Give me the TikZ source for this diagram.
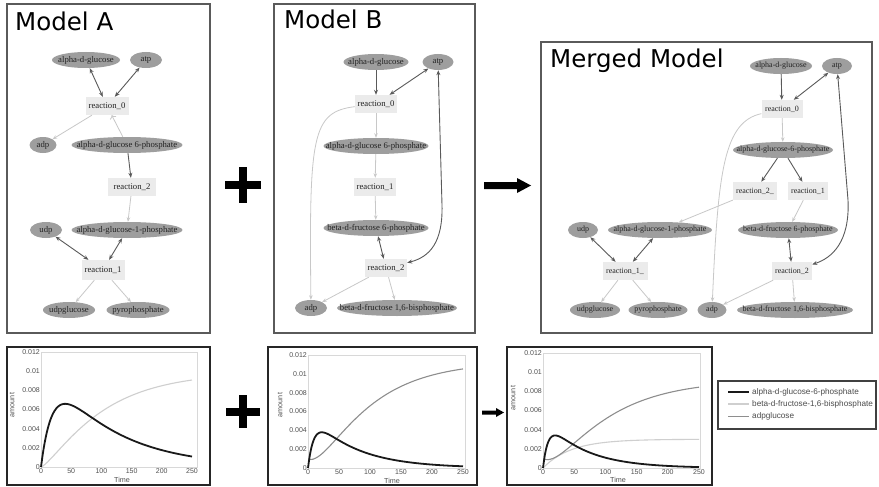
\documentclass[tikz,border=0pt]{standalone}
\usepackage{fontspec}
\setmainfont{Liberation Serif}
\newfontfamily\titlefont{DejaVu Sans}
\newfontfamily\plotfont{Liberation Sans}
\usetikzlibrary{shapes.geometric,arrows.meta}
\definecolor{spc}{HTML}{9E9E9E}
\definecolor{rxc}{HTML}{EBEBEB}
\definecolor{dkc}{HTML}{5A5A5A}
\definecolor{ltc}{HTML}{C8C8C8}
\definecolor{txc}{HTML}{222222}
\definecolor{panelc}{HTML}{5A5A5A}
\definecolor{midc}{HTML}{8E8E8E}
\definecolor{lgtc}{HTML}{CFCFCF}
\definecolor{framec}{HTML}{D8D8D8}
\definecolor{tickc}{HTML}{505050}
\begin{document}
\begin{tikzpicture}[x=1pt,y=-1pt,
 sp/.style={ellipse, fill=spc, inner sep=0pt, minimum height=16pt, minimum width=#1, text=txc,
   execute at begin node={\hbox to 0pt\bgroup\hss}, execute at end node={\hss\egroup}},
 rx/.style={rectangle, fill=rxc, inner sep=0pt, minimum height=18pt, minimum width=#1, text=txc},
 fa/.style={font=\fontsize{8.7}{9}\selectfont},
 fm/.style={font=\fontsize{8}{9}\selectfont},
 dk/.style={draw=dkc, line width=0.9pt, -{Stealth[length=5pt,width=4pt]}},
 dkk/.style={draw=dkc, line width=0.9pt, {Stealth[length=5pt,width=4pt]}-{Stealth[length=5pt,width=4pt]}},
 lt/.style={draw=ltc, line width=0.8pt, -{Stealth[length=4.5pt,width=3.5pt]}},
 panel/.style={draw=panelc, line width=1.6pt},
 plotbox/.style={draw=black!85, line width=1.8pt},
 title/.style={font=\titlefont\fontsize{24.5}{26}\selectfont, anchor=base west, inner sep=0pt},
 tick/.style={font=\plotfont\fontsize{7}{8}\selectfont, text=tickc, inner sep=1pt},
 axlab/.style={font=\plotfont\fontsize{7.2}{8}\selectfont, text=tickc, inner sep=0pt},
 blk/.style={draw=black!90, line width=1.8pt, line join=round},
 mid/.style={draw=midc, line width=1.1pt},
 lgt/.style={draw=lgtc, line width=1.1pt},
 frm/.style={draw=framec, line width=0.6pt},
 leg/.style={font=\plotfont\fontsize{8.2}{9}\selectfont, text=black!70, anchor=west, inner sep=0pt}
]
\useasboundingbox (0,0) rectangle (879,487);
\fill[white] (0,0) rectangle (879,487);

% ---------------- Panels ----------------
\draw[panel] (7,4) rectangle (210,333);
\draw[panel] (274,4) rectangle (475,333);
\draw[panel] (541,42) rectangle (872,333);
\node[title] (tA) at (15,31) {Model A};
\node[title] (tB) at (284,29) {Model B};
\node[title] (tM) at (550,68) {Merged Model};

% ---------------- Model A ----------------
\begin{scope}[fa]
\node[sp=68] (A1) at (86,60) {alpha-d-glucose};
\node[sp=32] (A2) at (146,60) {atp};
\node[rx=43] (Ar0) at (107,106) {reaction\_0};
\node[sp=27] (A3) at (43,145) {adp};
\node[sp=111] (A4) at (127,145) {alpha-d-glucose 6-phosphate};
\node[rx=48] (Ar2) at (132,187) {reaction\_2};
\node[sp=32] (A5) at (46,230) {udp};
\node[sp=111] (A6) at (127,230) {alpha-d-glucose-1-phosphate};
\node[rx=43, minimum height=20pt] (Ar1) at (103,270) {reaction\_1};
\node[sp=52] (A7) at (69,310) {udpglucose};
\node[sp=63] (A8) at (138,310) {pyrophosphate};
\end{scope}
\draw[dkk] (A1) -- (Ar0);
\draw[dkk] (A2) -- (Ar0);
\draw[lt] (Ar0) -- (A3);
\draw[lt, <-] (Ar0) -- (A4);
\draw[dk] (A4) -- (Ar2);
\draw[lt] (Ar2) -- (A6);
\draw[dkk] (A5) -- (Ar1);
\draw[dkk] (A6) -- (Ar1);
\draw[lt] (Ar1) -- (A7);
\draw[lt] (Ar1) -- (A8);

% ---------------- Model B ----------------
\begin{scope}[fa]
\node[sp=65] (B1) at (376,62) {alpha-d-glucose};
\node[sp=31] (B2) at (438,62) {atp};
\node[rx=42] (Br0) at (376,104) {reaction\_0};
\node[sp=105] (B3) at (376,146) {alpha-d-glucose 6-phosphate};
\node[rx=42] (Br1) at (375,187) {reaction\_1};
\node[sp=105] (B4) at (376,228) {beta-d-fructose 6-phosphate};
\node[rx=42] (Br2) at (386,268) {reaction\_2};
\node[sp=32] (B5) at (311,308) {adp};
\node[sp=120] (B6) at (397,308) {beta-d-fructose 1,6-bisphosphate};
\end{scope}
\draw[dk] (B1) -- (Br0);
\draw[dkk] (B2) -- (Br0);
\draw[lt] (Br0) .. controls (312,112) and (309,135) .. (B5);
\draw[lt] (Br0) -- (B3);
\draw[lt] (B3) -- (Br1);
\draw[lt] (Br1) -- (B4);
\draw[dkk] (B4) -- (Br2);
\draw[dkk] (B2) -- (442,205) .. controls (443,242) and (430,257) .. (Br2);
\draw[lt] (Br2) -- (B5);
\draw[lt] (Br2) -- (B6);

% ---------------- Merged ----------------
\begin{scope}[fm]
\node[sp=62] (M1) at (781,66) {alpha-d-glucose};
\node[sp=30] (M2) at (837,66) {atp};
\node[rx=41] (Mr0) at (782,109) {reaction\_0};
\node[sp=100] (M3) at (783,150) {alpha-d-glucose-6-phosphate};
\node[rx=44] (Mr2a) at (755,191) {reaction\_2\_};
\node[rx=40] (Mr1) at (808,191) {reaction\_1};
\node[sp=30] (M4) at (583,230) {udp};
\node[sp=104] (M5) at (660,230) {alpha-d-glucose-1-phosphate};
\node[sp=100] (M6) at (788,230) {beta-d-fructose 6-phosphate};
\node[rx=45] (Mr1a) at (625,271) {reaction\_1\_};
\node[rx=40] (Mr2) at (792,271) {reaction\_2};
\node[sp=50] (M7) at (595,310) {udpglucose};
\node[sp=59] (M8) at (658,310) {pyrophosphate};
\node[sp=29] (M9) at (712,310) {adp};
\node[sp=116] (M10) at (795,310) {beta-d-fructose 1,6-bisphosphate};
\end{scope}
\draw[dk] (M1) -- (Mr0);
\draw[dkk] (M2) -- (Mr0);
\draw[lt] (Mr0) .. controls (724,122) and (718,170) .. (M9);
\draw[lt] (Mr0) -- (M3);
\draw[dk] (M3) -- (Mr2a);
\draw[dk] (M3) -- (Mr1);
\draw[lt] (Mr2a) -- (M5);
\draw[lt] (Mr1) -- (M6);
\draw[dkk] (M4) -- (Mr1a);
\draw[dkk] (M5) -- (Mr1a);
\draw[lt] (Mr1a) -- (M7);
\draw[lt] (Mr1a) -- (M8);
\draw[dkk] (M6) -- (Mr2);
\draw[dkk] (M2) -- (848,200) .. controls (850,242) and (832,258) .. (Mr2);
\draw[lt] (Mr2) -- (M9);
\draw[lt] (Mr2) -- (M10);

% ---------------- Operators ----------------
\fill[black] (239,167) rectangle (247,203);
\fill[black] (225,181) rectangle (261,189);
\fill[black] (484,182) -- (517,182) -- (517,178) -- (531,185.5) -- (517,193) -- (517,189) -- (484,189) -- cycle;
\fill[black] (239,395) rectangle (247,428);
\fill[black] (226,408) rectangle (260,416);
\fill[black] (482,410.5) -- (496,410.5) -- (496,408) -- (504,412.5) -- (496,417) -- (496,414.5) -- (482,414.5) -- cycle;

% ---------------- Plot A ----------------
\draw[plotbox] (7,347) rectangle (210,485);
\begin{scope}[shift={(41,467)}, x=0.604pt, y=9.58pt]
\draw[frm] (0,0) rectangle (258,12);
\foreach \v/\l in {0/0,2/0.002,4/0.004,6/0.006,8/0.008,10/0.01,12/0.012}
  \node[tick, anchor=east] at (0,\v) {\l};
\foreach \t in {0,50,100,150,200,250}
  \node[tick, anchor=north] at (\t,0) {\t};
\draw[lgt] plot[domain=0.5:250, samples=70, smooth] (\x, {9.9*exp(1.35*ln(1-exp(-\x/90)))});
\draw[blk] plot[domain=0:250, samples=80, smooth] (\x, {11.8*(exp(-0.0095*\x)-exp(-0.052*\x))});
\end{scope}
\node[axlab] (xA) at (122,480) {Time};
\node[axlab, rotate=90] (yA) at (12,405) {amount};

% ---------------- Plot B ----------------
\draw[plotbox] (268,347) rectangle (477,485);
\begin{scope}[shift={(308,468)}, x=0.62pt, y=9.42pt]
\draw[frm] (0,0) rectangle (253,12);
\foreach \v/\l in {0/0,2/0.002,4/0.004,6/0.006,8/0.008,10/0.01,12/0.012}
  \node[tick, anchor=east] at (0,\v) {\l};
\foreach \t in {0,50,100,150,200,250}
  \node[tick, anchor=north] at (\t,0) {\t};
\draw[mid] plot[domain=1:250, samples=70, smooth] (\x, {11.3*exp(1.6*ln(1-exp(-\x/80)))+exp(-\x/20)});
\draw[blk] plot[domain=0:250, samples=90, smooth] (\x, {5.97*(exp(-0.014*\x)-exp(-0.105*\x))});
\end{scope}
\node[axlab] (xB) at (392,481) {Time};
\node[axlab, rotate=90] (yB) at (280,405) {amount};

% ---------------- Plot Merged ----------------
\draw[plotbox] (507,347) rectangle (712,485);
\begin{scope}[shift={(543,468)}, x=0.624pt, y=9.58pt]
\draw[frm] (0,0) rectangle (252,12);
\foreach \v/\l in {0/0,2/0.002,4/0.004,6/0.006,8/0.008,10/0.01,12/0.012}
  \node[tick, anchor=east] at (0,\v) {\l};
\foreach \t in {0,50,100,150,200,250}
  \node[tick, anchor=north] at (\t,0) {\t};
\draw[lgt] plot[domain=0:250, samples=60, smooth] (\x, {3.0*(1-exp(-\x/45))});
\draw[mid] plot[domain=1:250, samples=70, smooth] (\x, {9.2*exp(1.6*ln(1-exp(-\x/85)))+exp(-\x/20)});
\draw[blk] plot[domain=0:250, samples=90, smooth] (\x, {5.35*(exp(-0.016*\x)-exp(-0.12*\x))});
\end{scope}
\node[axlab] (xM) at (618,480) {Time};
\node[axlab, rotate=90] (yM) at (513,398) {amount};

% ---------------- Legend ----------------
\draw[draw=black!75, line width=1.2pt] (718,381) rectangle (876,429);
\coordinate (l1a) at (728,392); \coordinate (l1b) at (749,392);
\coordinate (l2a) at (728,404); \coordinate (l2b) at (749,404);
\coordinate (l3a) at (728,416.5); \coordinate (l3b) at (749,416.5);
\draw[blk, line width=1.5pt] (l1a) -- (l1b);
\draw[lgt] (l2a) -- (l2b);
\draw[mid] (l3a) -- (l3b);
\node[leg] (g1) at (752,392) {alpha-d-glucose-6-phosphate};
\node[leg] (g2) at (752,404) {beta-d-fructose-1,6-bisphosphate};
\node[leg] (g3) at (752,416.5) {adpglucose};
\end{tikzpicture}
\end{document}
